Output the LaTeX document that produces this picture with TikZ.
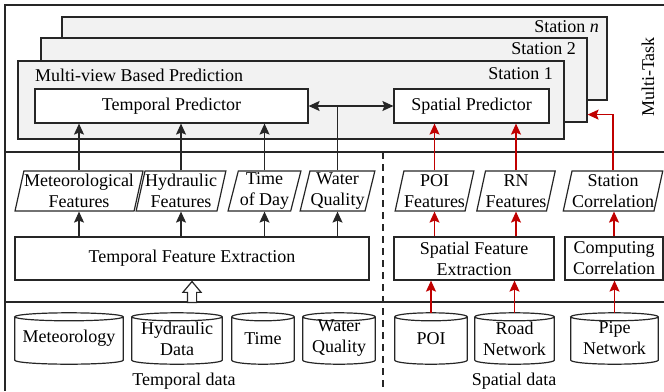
\documentclass[tikz,border=0pt]{standalone}
\usepackage{fontspec}
\setmainfont{Liberation Serif}
\usetikzlibrary{shapes.geometric,shapes.arrows,arrows.meta,positioning,calc}
\definecolor{mtInk}{HTML}{262626}
\definecolor{mtRed}{HTML}{C00000}
\definecolor{mtCard}{HTML}{F2F2F2}
\tikzset{
  card/.style={draw=mtInk, fill=mtCard, line width=1.2pt, inner sep=0pt},
  box/.style={draw=mtInk, fill=white, line width=1.2pt, inner sep=2pt, align=center},
  feat/.style={trapezium, trapezium left angle=76, trapezium right angle=104, trapezium stretches=true, draw=mtInk, line width=1.2pt, inner xsep=0pt, inner ysep=1pt, minimum height=40pt, align=center},
  db/.style={inner sep=0pt, minimum height=51pt, align=center,
    append after command={\pgfextra{
      \draw[draw=mtInk, line width=1.2pt]
        let \p1=(\tikzlastnode.north west), \p2=(\tikzlastnode.south east), \n1={(\x2-\x1)/2} in
        (\x1,{\y1-4pt}) -- (\x1,{\y2+4pt}) arc[start angle=180, end angle=360, x radius=\n1, y radius=4pt]
        -- (\x2,{\y1-4pt}) arc[start angle=0, end angle=360, x radius=\n1, y radius=4pt];
    }}},
  arr/.style={-{Stealth[length=11pt,width=10pt,inset=2pt]}, line width=1.2pt, draw=mtInk},
  arrR/.style={arr, draw=mtRed},
  sep/.style={draw=mtInk, line width=1.2pt},
}

\begin{document}
\begin{tikzpicture}[x=1pt, y=-1pt, font=\fontsize{18}{21}\selectfont]
        \useasboundingbox (0,0) rectangle (664,391);
        % frame
        \draw[sep] (664,5) -- (5,5) -- (5,391);
        \draw[sep] (5,152) -- (664,152);
        \draw[sep] (5,302) -- (664,302);
        \draw[sep, dash pattern=on 7pt off 5pt] (383,152) -- (383,391);
        % station cards
        \node[card, minimum width=545pt, minimum height=83pt] (stn) at (334.5,58.5) {};
        \node[card, minimum width=546pt, minimum height=84pt] (st2) at (314,80) {};
        \node[card, minimum width=546pt, minimum height=78pt] (st1) at (291,100) {};
        \node[anchor=east, inner sep=0pt] (lbln) at (599,27) {Station \textit{n}};
        \node[anchor=east, inner sep=0pt] (lbl2) at (576,49) {Station 2};
        \node[anchor=east, inner sep=0pt] (lbl1) at (553,74) {Station 1};
        \node[anchor=west, inner sep=0pt] (lblmv) at (35,75) {Multi-view Based Prediction};
        \node[rotate=90] (lblmt) at (648,77) {Multi-Task};
        % predictors
        \node[box, minimum width=273pt, minimum height=34pt] (tp) at (171.5,106) {Temporal Predictor};
        \node[box, minimum width=155pt, minimum height=34pt] (sp) at (471.5,106) {Spatial Predictor};
        % features
        \node[feat, minimum width=128pt] (met) at (79,191) {Meteorological\\Features};
        \node[feat, minimum width=82pt] (hyd) at (181,191) {Hydraulic\\Features};
        \node[feat, minimum width=73pt] (tod) at (264.5,191) {Time\\of Day};
        \node[feat, minimum width=75pt] (wq) at (337.5,191) {Water\\Quality};
        \node[feat, minimum width=79pt] (poif) at (434.5,191) {POI\\Features};
        \node[feat, minimum width=76pt] (rnf) at (516,191) {RN\\Features};
        \node[feat, minimum width=98pt] (scf) at (613,191) {Station\\Correlation};
        % extraction
        \node[box, minimum width=354pt, minimum height=43pt] (tfe) at (192,258.5) {Temporal Feature Extraction};
        \node[box, minimum width=160pt, minimum height=43pt] (sfe) at (474,258.5) {Spatial Feature\\Extraction};
        \node[box, minimum width=98pt, minimum height=43pt] (cc) at (614,258.5) {Computing\\Correlation};
        % data sources
        \node[db, minimum width=108pt] (metdb) at (69,338.5) {Meteorology};
        \node[db, minimum width=90pt] (hyddb) at (177,338.5) {Hydraulic\\Data};
        \node[db, minimum width=62pt] (timedb) at (263,338.5) {Time};
        \node[db, minimum width=72pt] (wqdb) at (339,338.5) {Water\\Quality};
        \node[db, minimum width=72pt] (poidb) at (431,338.5) {POI};
        \node[db, minimum width=79pt] (roaddb) at (514.5,338.5) {Road\\Network};
        \node[db, minimum width=87pt] (pipedb) at (614.5,338.5) {Pipe\\Network};
        \node (lbltd) at (184,381) {Temporal data};
        \node (lblsd) at (514,381) {Spatial data};
        % connectors
        \node[single arrow, draw=mtInk, fill=white, line width=1.2pt, rotate=90, anchor=tip, minimum height=21pt, minimum width=17pt, inner sep=4pt, single arrow head extend=4.5pt, single arrow tip angle=80] (hol) at (tfe.south) {};
        \foreach \f in {met,hyd,tod,wq} \draw[arr] (tfe.north -| \f.south) -- (\f.south);
        \foreach \f in {met,hyd,tod} \draw[arr] (\f.north) -- (\f.north |- tp.south);
        \draw[sep] (wq.north) -- (wq.north |- tp.east);
        \draw[{Stealth[length=11pt,width=10pt,inset=2pt]}-{Stealth[length=11pt,width=10pt,inset=2pt]}, line width=1.2pt, draw=mtInk] (tp.east) -- (sp.west);
        \foreach \f in {poif,rnf} \draw[arrR] (\f.north) -- (\f.north |- sp.south);
        \foreach \f in {poif,rnf} \draw[arrR] (sfe.north -| \f.south) -- (\f.south);
        \draw[arrR] (cc.north) -- (cc.north |- scf.south);
        \draw[arrR] (scf.north) |- ([yshift=8pt]st2.south east);
        \draw[arrR] (poidb.north) -- (poidb.north |- sfe.south);
        \draw[arrR] (roaddb.north) -- (roaddb.north |- sfe.south);
        \draw[arrR] (pipedb.north) -- (pipedb.north |- cc.south);
\end{tikzpicture}
\end{document}
